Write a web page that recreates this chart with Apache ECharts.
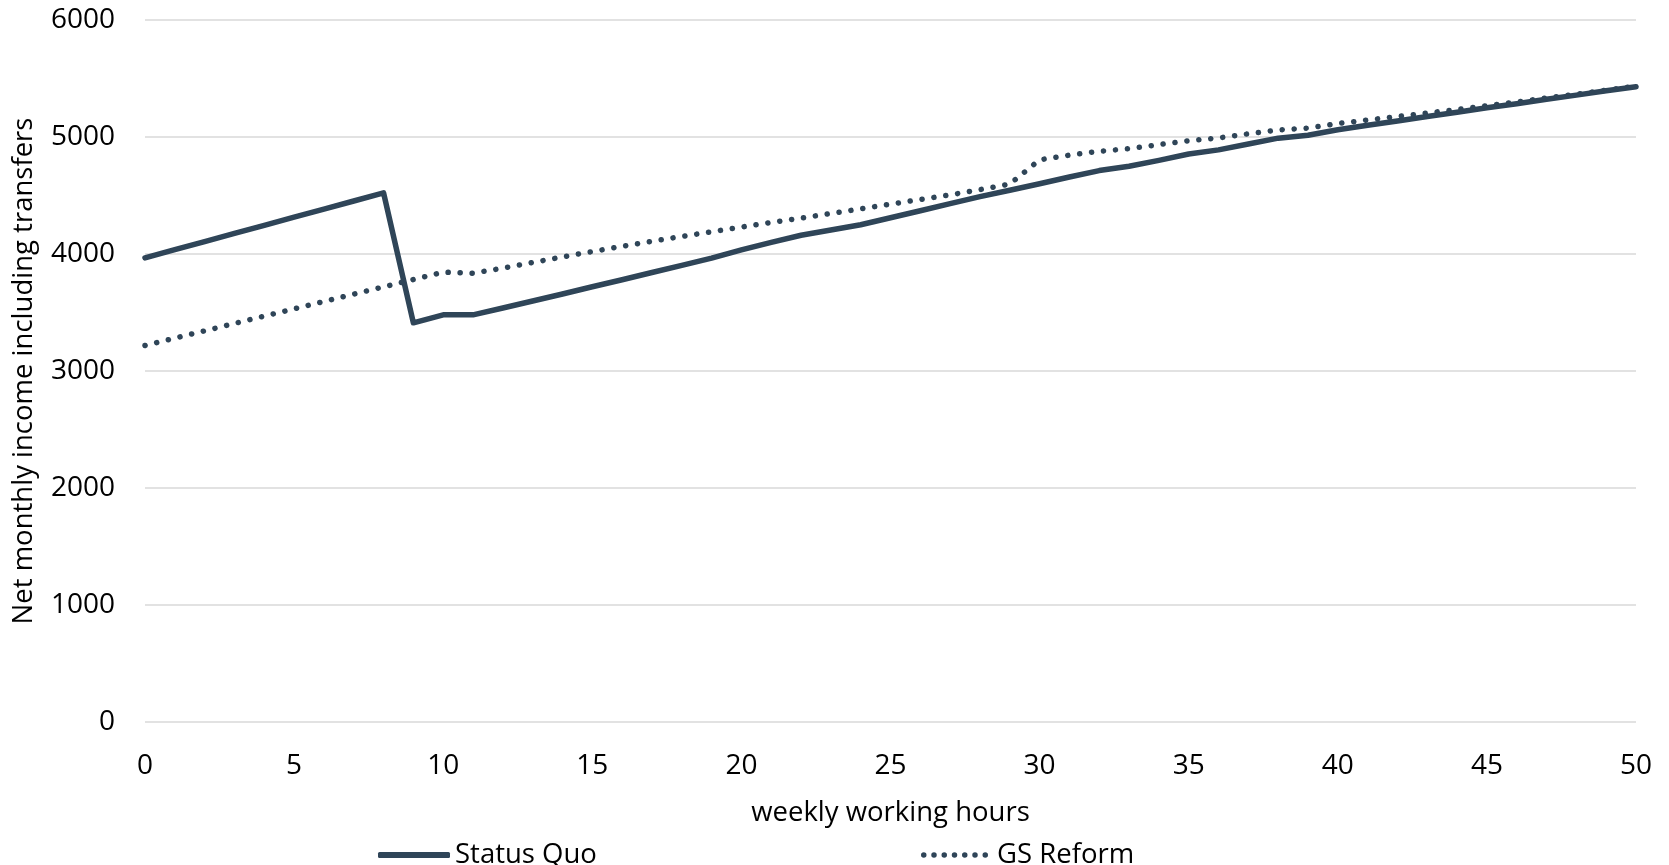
<!DOCTYPE html>
<html>
<head>
<meta charset="utf-8">
<script src="https://cdn.jsdelivr.net/npm/echarts@6/dist/echarts.min.js"></script>
<style>
html,body{margin:0;padding:0;background:#fff;}
#chart{width:1669px;height:865px;}
</style>
</head>
<body>
<div id="chart"></div>
<script>
const hours = [0,1,2,3,4,5,6,7,8,9,10,11,12,13,14,15,16,17,18,19,20,21,22,23,24,25,26,27,28,29,30,31,32,33,34,35,36,37,38,39,40,41,42,43,44,45,46,47,48,49,50];
const statusQuo = [3967,4037,4106,4176,4245,4315,4384,4453,4522,3412,3480,3480,3538,3598,3658,3720,3780,3842,3903,3965,4035,4100,4160,4205,4250,4310,4370,4430,4490,4545,4600,4658,4713,4750,4800,4855,4890,4940,4990,5015,5062,5100,5137,5175,5212,5250,5285,5322,5358,5395,5430];
const gsReform = [3218,3281,3343,3406,3469,3531,3594,3657,3719,3782,3845,3836,3879,3927,3975,4021,4065,4109,4150,4190,4230,4270,4307,4346,4386,4426,4466,4505,4550,4598,4805,4845,4878,4900,4935,4968,4992,5027,5060,5076,5115,5145,5175,5205,5235,5268,5300,5333,5366,5400,5435];
const seriesNames = ['Status Quo','GS Reform'];
const xTitle = 'weekly working hours';
const yTitle = 'Net monthly income including transfers';

const color = '#2F4558';
const font = 'Open Sans';

// dotted legend icon: 7 small circles
function dotsPath(n, r, w) {
  const step = (w - 2 * r) / (n - 1);
  let p = '';
  for (let k = 0; k < n; k++) {
    const cx = r + k * step;
    p += 'M' + (cx - r) + ',' + r + ' a' + r + ',' + r + ' 0 1,0 ' + (2 * r) + ',0 a' + r + ',' + r + ' 0 1,0 ' + (-2 * r) + ',0 ';
  }
  return 'path://' + p;
}

const chart = echarts.init(document.getElementById('chart'));
chart.setOption({
  animation: false,
  backgroundColor: '#fff',
  grid: {left: 145, right: 33, top: 20, bottom: 143, containLabel: false, outerBoundsMode: 'none'},
  legend: [
    {
      top: 840, left: 378, padding: 0,
      itemWidth: 72, itemHeight: 6,
      icon: 'roundRect',
      textStyle: {fontFamily: font, fontSize: 27.5, lineHeight: 30, color: '#000'},
      data: [seriesNames[0]]
    },
    {
      top: 840, left: 921, padding: 0,
      itemWidth: 67, itemHeight: 5.5,
      icon: dotsPath(7, 2.75, 67),
      textStyle: {fontFamily: font, fontSize: 27.5, lineHeight: 30, color: '#000', padding: [0, 0, 0, 4]},
      data: [seriesNames[1]]
    }
  ],
  xAxis: {
    type: 'value', min: 0, max: 50, interval: 5,
    name: xTitle, nameLocation: 'middle', nameGap: 77,
    nameTextStyle: {fontFamily: font, fontSize: 27.5, color: '#000'},
    axisLine: {show: false}, axisTick: {show: false}, splitLine: {show: false},
    axisLabel: {fontFamily: font, fontSize: 28, color: '#000', margin: 30}
  },
  yAxis: {
    type: 'value', min: 0, max: 6000, interval: 1000,
    name: yTitle, nameLocation: 'middle', nameGap: 107, nameRotate: 90,
    nameTextStyle: {fontFamily: font, fontSize: 27.5, color: '#000'},
    axisLine: {show: false}, axisTick: {show: false},
    splitLine: {lineStyle: {color: '#D9D9D9', width: 1.5}},
    axisLabel: {fontFamily: font, fontSize: 28, color: '#000', margin: 30, formatter: v => String(v)}
  },
  series: [
    {
      name: seriesNames[0], type: 'line', showSymbol: false, symbol: 'none',
      data: hours.map((h, i) => [h, statusQuo[i]]),
      lineStyle: {color: color, width: 5.5, join: 'round', cap: 'round'},
      itemStyle: {color: color}
    },
    {
      name: seriesNames[1], type: 'line', showSymbol: false, symbol: 'none',
      data: hours.map((h, i) => [h, gsReform[i]]),
      lineStyle: {color: color, width: 5.5, type: [0.1, 11.9], cap: 'round', join: 'round'},
      itemStyle: {color: color}
    }
  ]
});
</script>
</body>
</html>
